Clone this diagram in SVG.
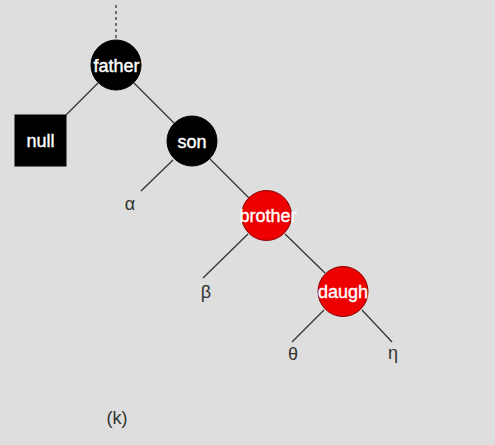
<svg xmlns="http://www.w3.org/2000/svg" width="495" height="445" viewBox="0 0 495 445">
<style>
.bg{fill:#dedede}
.e{stroke:#333;stroke-width:1.3;fill:none}
.blk{fill:#000;stroke:#000}
.red{fill:#ee0000;stroke:#8a0000;stroke-width:1}
.nt{font-family:"Liberation Sans",Arial,sans-serif;font-size:18px;fill:#fff;stroke:#fff;stroke-width:0.4;text-anchor:middle}
.lb{font-family:"Liberation Sans",Arial,sans-serif;font-size:18px;fill:#333;text-anchor:middle}
</style>
<rect class="bg" x="0" y="0" width="495" height="445"/>
<g id="connectors">
<line class="e" x1="116" y1="5" x2="116" y2="39" stroke-dasharray="3,3"/>
<line class="e" x1="98" y1="83" x2="66" y2="115"/>
<line class="e" x1="134" y1="83" x2="174" y2="123"/>
<line class="e" x1="173" y1="160" x2="141" y2="191"/>
<line class="e" x1="210" y1="159" x2="249" y2="198"/>
<line class="e" x1="248" y1="234" x2="203" y2="278"/>
<line class="e" x1="285" y1="234" x2="325" y2="273"/>
<line class="e" x1="324" y1="310" x2="292" y2="342"/>
<line class="e" x1="362" y1="310" x2="392" y2="342"/>
</g>
<g id="father"><circle class="blk" cx="116" cy="65" r="25"/><text class="nt" x="116.5" y="72">father</text></g>
<g id="null"><rect class="blk" x="15" y="115" width="51" height="51"/><text class="nt" x="40.5" y="147">null</text></g>
<g id="son"><circle class="blk" cx="192" cy="141" r="25"/><text class="nt" x="192" y="147.5">son</text></g>
<g id="brother"><circle class="red" cx="266.5" cy="215.5" r="25"/><text class="nt" x="268" y="222">brother</text></g>
<g id="daugh"><circle class="red" cx="343" cy="291.5" r="25"/><text class="nt" x="343" y="298">daugh</text></g>
<g id="labels">
<text class="lb" x="130" y="210">α</text>
<text class="lb" x="206" y="298">β</text>
<text class="lb" x="293" y="360">θ</text>
<text class="lb" x="393" y="359">η</text>
<text class="lb" x="117" y="424">(k)</text>
</g>
</svg>
